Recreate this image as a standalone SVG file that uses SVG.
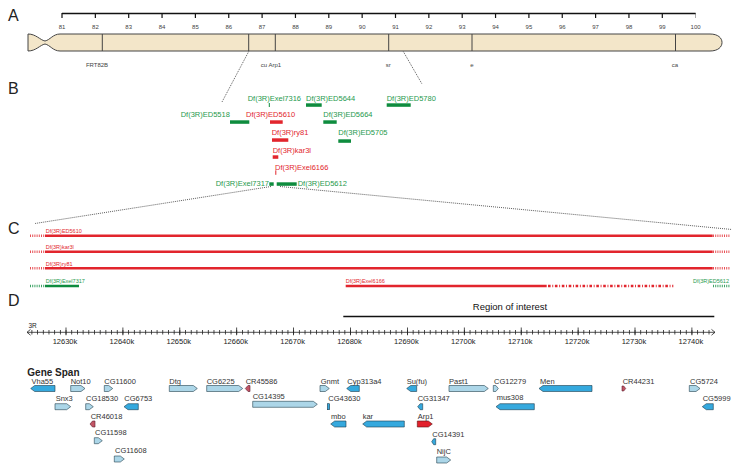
<svg xmlns="http://www.w3.org/2000/svg" width="742" height="476" viewBox="0 0 742 476">
<defs>
<style>
text{font-family:"Liberation Sans",Arial,sans-serif;}
.pl{font-size:16px;fill:#222;}
.rt{font-size:6px;fill:#444;text-anchor:middle;}
.bl{font-size:6px;fill:#444;text-anchor:middle;}
.dg{font-size:7.5px;fill:#1f9a4e;}
.dr{font-size:7.5px;fill:#e2252d;}
.cg{font-size:5.5px;fill:#1f9a4e;}
.cr{font-size:5.5px;fill:#e2252d;}
.gb{fill:#0e8c3e;}
.rb{fill:#e2252d;}
.dot{stroke:#333;stroke-width:0.8;stroke-dasharray:1 1;fill:none;}
.sr{stroke:#e2252d;stroke-width:2.5;fill:none;}
.sg{stroke:#0e8c3e;stroke-width:2.5;fill:none;}
.dsr{stroke:#e2252d;stroke-width:2.5;stroke-dasharray:1 1.2;fill:none;opacity:0.8;}
.dsg{stroke:#0e8c3e;stroke-width:2.5;stroke-dasharray:1 1.2;fill:none;opacity:0.8;}
.gl{font-size:7.5px;fill:#333;}
.lt{fill:#acd6e8;stroke:#24424f;stroke-width:0.6;}
.dk{fill:#35a9de;stroke:#1d3d4d;stroke-width:0.6;}
.rd{fill:#e2202b;stroke:#5a1010;stroke-width:0.6;}
.pk{fill:#c25565;stroke:#5a2030;stroke-width:0.6;}
.tl{font-size:7.5px;fill:#222;text-anchor:middle;}
</style>
</defs>

<!-- Panel labels -->
<text class="pl" x="8" y="21">A</text>
<text class="pl" x="8" y="94">B</text>
<text class="pl" x="8" y="233.5">C</text>
<text class="pl" x="8" y="306">D</text>

<!-- Panel A: cytological ruler -->
<g id="cyto-ruler">
<line x1="62" y1="13.5" x2="695.6" y2="13.5" stroke="#111" stroke-width="1.5"/>
<line x1="62" y1="13" x2="696" y2="13" stroke="#111" stroke-width="5" stroke-dasharray="1.2 32.15" transform="translate(-0.6,2.5)"/>
<text class="rt" x="62" y="29">81</text>
<text class="rt" x="95.4" y="29">82</text>
<text class="rt" x="128.7" y="29">83</text>
<text class="rt" x="162.1" y="29">84</text>
<text class="rt" x="195.4" y="29">85</text>
<text class="rt" x="228.8" y="29">86</text>
<text class="rt" x="262.1" y="29">87</text>
<text class="rt" x="295.5" y="29">88</text>
<text class="rt" x="328.8" y="29">89</text>
<text class="rt" x="362.2" y="29">90</text>
<text class="rt" x="395.5" y="29">91</text>
<text class="rt" x="428.9" y="29">92</text>
<text class="rt" x="462.2" y="29">93</text>
<text class="rt" x="495.6" y="29">94</text>
<text class="rt" x="528.9" y="29">95</text>
<text class="rt" x="562.3" y="29">96</text>
<text class="rt" x="595.6" y="29">97</text>
<text class="rt" x="629" y="29">98</text>
<text class="rt" x="662.3" y="29">99</text>
<text class="rt" x="695.6" y="29">100</text>
</g>

<g id="chromosome">
<path d="M28,34 C36,34 40,40 45,41 C50,40 53,34 60,34 L710,34 C718,34 722,38 722,42.5 C722,47 718,51 710,51 L60,51 C53,51 50,45 45,44 C40,45 36,51 28,51 Z" fill="#f3e6c9" stroke="#444" stroke-width="1"/>
<g stroke="#444" stroke-width="1">
<line x1="102.3" y1="34" x2="102.3" y2="51"/>
<line x1="248.7" y1="34" x2="248.7" y2="51"/>
<line x1="275.3" y1="34" x2="275.3" y2="51"/>
<line x1="388.7" y1="34" x2="388.7" y2="51"/>
<line x1="472" y1="34" x2="472" y2="51"/>
<line x1="675.5" y1="34" x2="675.5" y2="51"/>
</g>
<text class="bl" x="97" y="67">FRT82B</text>
<text class="bl" x="271" y="67">cu Arp1</text>
<text class="bl" x="388.3" y="67">sr</text>
<text class="bl" x="472" y="67">e</text>
<text class="bl" x="675" y="67">ca</text>
</g>

<!-- zoom connectors -->
<g id="connectors">
<line class="dot" x1="248.7" y1="51.5" x2="222" y2="102"/>
<line class="dot" x1="403.3" y1="51.5" x2="422" y2="84"/>
<line class="dot" x1="271" y1="186.5" x2="35" y2="223.5"/>
<line class="dot" x1="280" y1="186.5" x2="732" y2="229.5"/>
</g>

<!-- Panel B: deficiencies -->
<g id="panel-b">
<g id="Exel7316"><text class="dg" x="247.7" y="101">Df(3R)Exel7316</text><rect class="gb" x="268.8" y="103" width="1" height="4"/></g>
<g id="ED5644"><text class="dg" x="306" y="101">Df(3R)ED5644</text><rect class="gb" x="306" y="103.3" width="15.7" height="3.5"/></g>
<g id="ED5780"><text class="dg" x="386.7" y="101">Df(3R)ED5780</text><rect class="gb" x="386.7" y="103.3" width="24" height="3.5"/></g>
<g id="ED5518"><text class="dg" x="180.7" y="117">Df(3R)ED5518</text><rect class="gb" x="230" y="120.3" width="19.3" height="3.5"/></g>
<g id="ED5610"><text class="dr" x="246" y="117">Df(3R)ED5610</text><rect class="rb" x="270" y="120.3" width="12.7" height="3.5"/></g>
<g id="ED5664"><text class="dg" x="323.3" y="117">Df(3R)ED5664</text><rect class="gb" x="323.3" y="120.3" width="13.4" height="3.5"/></g>
<g id="ry81"><text class="dr" x="271.7" y="135">Df(3R)ry81</text><rect class="rb" x="272" y="138.3" width="16.3" height="3.5"/></g>
<g id="ED5705"><text class="dg" x="338.3" y="135">Df(3R)ED5705</text><rect class="gb" x="338.3" y="139.3" width="12.7" height="3.5"/></g>
<g id="kar3l"><text class="dr" x="272.7" y="152.5">Df(3R)kar3l</text><rect class="rb" x="272.7" y="155.3" width="5.6" height="3.5"/></g>
<g id="Exel6166"><text class="dr" x="275" y="169.5">Df(3R)Exel6166</text><rect class="rb" x="275.3" y="170.3" width="1" height="4.5"/></g>
<g id="Exel7317"><text class="dg" x="215.7" y="185.5">Df(3R)Exel7317</text><rect class="gb" x="269.3" y="182.3" width="4.4" height="3.5"/></g>
<g id="ED5612"><text class="dg" x="297.7" y="185.5">Df(3R)ED5612</text><rect class="gb" x="276.7" y="182.3" width="20" height="3.5"/></g>
</g>

<!-- Panel C -->
<g id="panel-c">
<g id="c-ED5610"><text class="cr" x="45.7" y="232.7">Df(3R)ED5610</text>
<line class="dsr" x1="30" y1="235.7" x2="45" y2="235.7"/><line class="sr" x1="45" y1="235.7" x2="712.7" y2="235.7"/><line class="dsr" x1="713" y1="235.7" x2="730" y2="235.7"/></g>
<g id="c-kar3l"><text class="cr" x="45.7" y="248.7">Df(3R)kar3l</text>
<line class="dsr" x1="30" y1="251.7" x2="45" y2="251.7"/><line class="sr" x1="45" y1="251.7" x2="712.7" y2="251.7"/><line class="dsr" x1="713" y1="251.7" x2="730" y2="251.7"/></g>
<g id="c-ry81"><text class="cr" x="45.7" y="265.8">Df(3R)ry81</text>
<line class="dsr" x1="30" y1="268.3" x2="45" y2="268.3"/><line class="sr" x1="45" y1="268.3" x2="712.7" y2="268.3"/><line class="dsr" x1="713" y1="268.3" x2="730" y2="268.3"/></g>
<g id="c-Exel7317"><text class="cg" x="45.7" y="282.7">Df(3R)Exel7317</text>
<line class="dsg" x1="30" y1="286" x2="45" y2="286"/><line class="sg" x1="45" y1="286" x2="79" y2="286"/></g>
<g id="c-Exel6166"><text class="cr" x="345.7" y="282.7">Df(3R)Exel6166</text>
<line class="sr" x1="345.7" y1="286" x2="546.7" y2="286"/>
<line x1="548" y1="286" x2="673.3" y2="286" stroke="#e2252d" stroke-width="2.5" stroke-dasharray="2.6 1.7 0.9 1.7"/></g>
<g id="c-ED5612"><text class="cg" x="729" y="282.7" text-anchor="end">Df(3R)ED5612</text>
<line class="dsg" x1="713" y1="286" x2="730" y2="286"/></g>
</g>

<!-- Panel D -->
<g id="region">
<text x="510" y="310" font-size="9.5" fill="#111" text-anchor="middle">Region of interest</text>
<line x1="343.3" y1="316.6" x2="714.3" y2="316.6" stroke="#111" stroke-width="1.5"/>
</g>

<g id="axis">
<text x="28.5" y="328.3" font-size="6.5" fill="#222">3R</text>
<line x1="27" y1="332.3" x2="715" y2="332.3" stroke="#222" stroke-width="0.8"/>
<polyline points="30.5,329.4 27,332.3 30.5,335.2" fill="none" stroke="#222" stroke-width="0.8"/>
<polyline points="711.5,329.4 715,332.3 711.5,335.2" fill="none" stroke="#222" stroke-width="0.8"/>
<line x1="31.5" y1="332.3" x2="712" y2="332.3" stroke="#222" stroke-width="4.4" stroke-dasharray="0.8 4.89"/>
<line x1="65.6" y1="331.3" x2="700" y2="331.3" stroke="#222" stroke-width="7.8" stroke-dasharray="0.8 56.1"/>
<text class="tl" x="65" y="344">12630k</text>
<text class="tl" x="121.9" y="344">12640k</text>
<text class="tl" x="178.8" y="344">12650k</text>
<text class="tl" x="235.7" y="344">12660k</text>
<text class="tl" x="292.6" y="344">12670k</text>
<text class="tl" x="349.5" y="344">12680k</text>
<text class="tl" x="406.4" y="344">12690k</text>
<text class="tl" x="463.3" y="344">12700k</text>
<text class="tl" x="520.2" y="344">12710k</text>
<text class="tl" x="577.1" y="344">12720k</text>
<text class="tl" x="634" y="344">12730k</text>
<text class="tl" x="690.9" y="344">12740k</text>
</g>

<text x="27.3" y="375.8" font-size="10" font-weight="bold" fill="#222">Gene Span</text>

<!-- Genes -->
<g id="genes">
<g id="Vha55"><text class="gl" x="31.5" y="383.6">Vha55</text><polygon class="dk" points="55,385.5 34.7,385.5 30.7,388.5 34.7,391.5 55,391.5"/></g>
<g id="Not10"><text class="gl" x="70.7" y="383.6">Not10</text><polygon class="lt" points="70.7,385.5 81,385.5 85,388.5 81,391.5 70.7,391.5"/></g>
<g id="CG11600"><text class="gl" x="104.3" y="383.6">CG11600</text><polygon class="lt" points="104.3,385.5 108.7,385.5 112.7,388.5 108.7,391.5 104.3,391.5"/></g>
<g id="Dtg"><text class="gl" x="169.3" y="383.6">Dtg</text><polygon class="lt" points="169.3,385.5 193.3,385.5 197.3,388.5 193.3,391.5 169.3,391.5"/></g>
<g id="CG6225"><text class="gl" x="206.7" y="383.6">CG6225</text><polygon class="lt" points="206.7,385.5 238.7,385.5 242.7,388.5 238.7,391.5 206.7,391.5"/></g>
<g id="CR45586"><text class="gl" x="245.7" y="383.6">CR45586</text><polygon class="pk" points="250,385.5 248,385.5 245.3,388.5 248,391.5 250,391.5"/></g>
<g id="Gnmt"><text class="gl" x="320.7" y="383.6">Gnmt</text><polygon class="lt" points="320,385.5 325.3,385.5 329.3,388.5 325.3,391.5 320,391.5"/></g>
<g id="Cyp313a4"><text class="gl" x="347.3" y="383.6">Cyp313a4</text><polygon class="dk" points="359.3,385.5 350.7,385.5 346.7,388.5 350.7,391.5 359.3,391.5"/></g>
<g id="Suf"><text class="gl" x="406.7" y="383.6">Su(fu)</text><polygon class="dk" points="416.7,385.5 410.7,385.5 406.7,388.5 410.7,391.5 416.7,391.5"/></g>
<g id="Past1"><text class="gl" x="449" y="383.6">Past1</text><polygon class="lt" points="449,385.5 484.3,385.5 488.3,388.5 484.3,391.5 449,391.5"/></g>
<g id="CG12279"><text class="gl" x="494" y="383.6">CG12279</text><polygon class="lt" points="493.3,385.5 495.8,385.5 498.3,388.5 495.8,391.5 493.3,391.5"/></g>
<g id="Men"><text class="gl" x="540" y="383.6">Men</text><polygon class="dk" points="592,385.5 543,385.5 539,388.5 543,391.5 592,391.5"/></g>
<g id="CR44231"><text class="gl" x="622.7" y="383.6">CR44231</text><polygon class="pk" points="622,386 623.7,386 625.7,388.5 623.7,391 622,391"/></g>
<g id="CG5724"><text class="gl" x="690" y="383.6">CG5724</text><polygon class="lt" points="689.3,385.5 696,385.5 700,388.5 696,391.5 689.3,391.5"/></g>

<g id="Snx3"><text class="gl" x="55.7" y="401">Snx3</text><polygon class="lt" points="55,403.7 66.7,403.7 70.7,406.7 66.7,409.7 55,409.7"/></g>
<g id="CG18530"><text class="gl" x="86" y="401">CG18530</text><polygon class="lt" points="85.7,403.7 89.3,403.7 93.3,406.7 89.3,409.7 85.7,409.7"/></g>
<g id="CG6753"><text class="gl" x="124.3" y="401">CG6753</text><polygon class="dk" points="138.3,403.7 128,403.7 124,406.7 128,409.7 138.3,409.7"/></g>
<g id="CG14395"><text class="gl" x="252.7" y="398.7">CG14395</text><polygon class="lt" points="252.7,401.3 313.3,401.3 317.3,404.3 313.3,407.3 252.7,407.3"/></g>
<g id="CG43630"><text class="gl" x="328.3" y="401">CG43630</text><rect class="dk" x="327.3" y="403.7" width="2.4" height="6"/></g>
<g id="CG31347"><text class="gl" x="417.7" y="401">CG31347</text><polygon class="dk" points="422.7,403.7 420.2,403.7 417.7,406.7 420.2,409.7 422.7,409.7"/></g>
<g id="mus308"><text class="gl" x="496.7" y="400.4">mus308</text><polygon class="dk" points="534.3,403.7 500,403.7 496,406.7 500,409.7 534.3,409.7"/></g>
<g id="CG5999"><text class="gl" x="702.7" y="401">CG5999</text><polygon class="dk" points="713.3,403.7 706.3,403.7 702.3,406.7 706.3,409.7 713.3,409.7"/></g>

<g id="CR46018"><text class="gl" x="90.7" y="418.7">CR46018</text><polygon class="pk" points="95,421 92.5,421 90,424 92.5,427 95,427"/></g>
<g id="mbo"><text class="gl" x="331" y="418.7">mbo</text><polygon class="dk" points="346,421 334.7,421 330.7,424 334.7,427 346,427"/></g>
<g id="kar"><text class="gl" x="362.7" y="418.7">kar</text><polygon class="dk" points="404.3,421 366.7,421 362.7,424 366.7,427 404.3,427"/></g>
<g id="Arp1"><text class="gl" x="417.7" y="418.7">Arp1</text><polygon class="rd" points="417.3,421 428.3,421 432.3,424 428.3,427 417.3,427"/></g>

<g id="CG11598"><text class="gl" x="95" y="435">CG11598</text><polygon class="lt" points="94.3,437.7 98.3,437.7 102.3,440.7 98.3,443.7 94.3,443.7"/></g>
<g id="CG14391"><text class="gl" x="432.3" y="436.7">CG14391</text><polygon class="dk" points="435.7,438.7 433.7,438.7 431.7,441.7 433.7,444.7 435.7,444.7"/></g>

<g id="CG11608"><text class="gl" x="115" y="452.7">CG11608</text><polygon class="lt" points="114.3,456 120.3,456 124.3,459 120.3,462 114.3,462"/></g>
<g id="NijC"><text class="gl" x="436.7" y="454.4">NijC</text><polygon class="lt" points="436.7,457 446.7,457 450.7,460 446.7,463 436.7,463"/></g>
</g>
</svg>
